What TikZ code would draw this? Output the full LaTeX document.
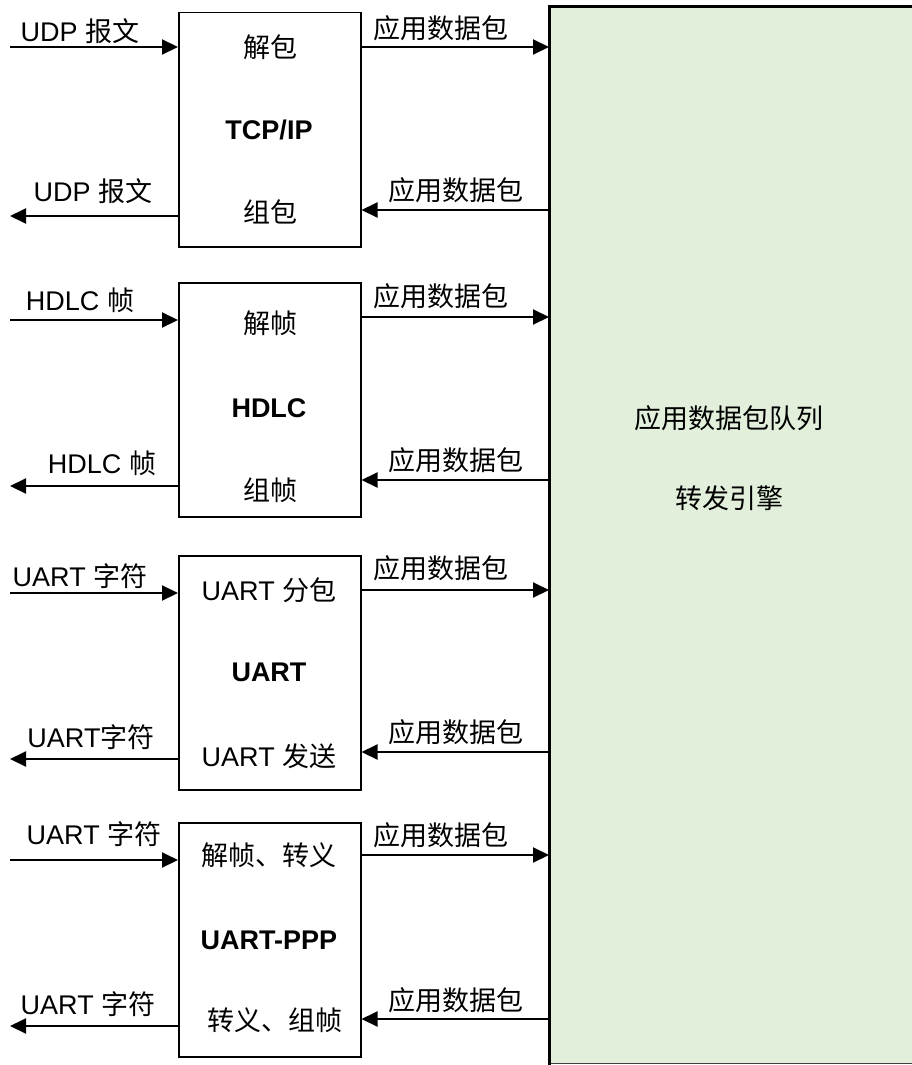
\documentclass[tikz,border=0pt]{standalone}
\usepackage{fontspec}
\setmainfont{Liberation Sans}
\newfontfamily\cjk{Noto Sans CJK SC}
\usetikzlibrary{arrows.meta}
\newcommand\zh[1]{{\cjk #1}}
\definecolor{enggreen}{HTML}{E2EFDA}
\tikzset{
  txt/.style={inner sep=0pt, font=\fontsize{27}{32}\selectfont},
  btxt/.style={inner sep=0pt, font=\fontsize{27}{32}\selectfont\bfseries},
  blk/.style={draw=black, line width=1.5pt, fill=white, minimum width=182pt, minimum height=234pt, inner sep=0pt},
  arr/.style={line width=2pt, -{Triangle[length=16pt,width=15pt]}},
}
\begin{document}
\begin{tikzpicture}[x=1pt,y=-1pt]
\useasboundingbox (0,0) rectangle (911,1065);
% engine
\node[fill=enggreen, minimum width=366pt, minimum height=1056pt, inner sep=0pt, anchor=north west] (eng) at (549,7) {};
\draw[line width=1pt, draw=black!75] (eng.south west) -- (eng.south east);
\draw[line width=3pt, line cap=rect] (eng.south west) -- (eng.north west) -- (eng.north east);
\node[txt] (e1) at (729,418) {\zh{应用数据包队列}};
\node[txt] (e2) at (729,498) {\zh{转发引擎}};

% blocks
\node[blk, anchor=north west] (b1) at (178,12) {};
\node[blk, anchor=north west] (b2) at (178,282) {};
\node[blk, anchor=north west] (b3) at (178,555) {};
\node[blk, anchor=north west] (b4) at (178,822) {};

% block texts
\node[txt] (t11) at (270,47) {\zh{解包}};
\node[btxt] (t12) at (269,130) {TCP/IP};
\node[txt] (t13) at (270,212) {\zh{组包}};
\node[txt] (t21) at (270,323) {\zh{解帧}};
\node[btxt] (t22) at (269,408) {HDLC};
\node[txt] (t23) at (270,490) {\zh{组帧}};
\node[txt] (t31) at (269,590) {UART \zh{分包}};
\node[btxt] (t32) at (269,672) {UART};
\node[txt] (t33) at (269,756) {UART \zh{发送}};
\node[txt] (t41) at (269,855) {\zh{解帧、转义}};
\node[btxt] (t42) at (269,940) {UART-PPP};
\node[txt] (t43) at (275,1020) {\zh{转义、组帧}};

% free ends
\coordinate (in1) at (10,47);   \coordinate (out1) at (10,216);
\coordinate (in2) at (10,320);  \coordinate (out2) at (10,486);
\coordinate (in3) at (10,593);  \coordinate (out3) at (10,759);
\coordinate (in4) at (10,860);  \coordinate (out4) at (10,1026);
\coordinate (up1) at (450,47);  \coordinate (dn1) at (450,210);
\coordinate (up2) at (450,317); \coordinate (dn2) at (450,480);
\coordinate (up3) at (450,590); \coordinate (dn3) at (450,752);
\coordinate (up4) at (450,855); \coordinate (dn4) at (450,1019);

% arrows
\foreach \i in {1,2,3,4}{
  \draw[arr] (in\i) -- (in\i -| b\i.west);
  \draw[arr] (out\i -| b\i.west) -- (out\i);
  \draw[arr] (up\i -| b\i.east) -- (up\i -| eng.west);
  \draw[arr] (dn\i -| eng.west) -- (dn\i -| b\i.east);
}

% labels
\node[txt] (l11) at (80,31) {UDP \zh{报文}};
\node[txt] (l12) at (93,191) {UDP \zh{报文}};
\node[txt] (l21) at (80,300) {HDLC \zh{帧}};
\node[txt] (l22) at (102,463) {HDLC \zh{帧}};
\node[txt] (l31) at (80,576) {UART \zh{字符}};
\node[txt] (l32) at (91,737) {UART\zh{字符}};
\node[txt] (l41) at (94,834) {UART \zh{字符}};
\node[txt] (l42) at (88,1004) {UART \zh{字符}};

\node[txt] (r11) at (441,28) {\zh{应用数据包}};
\node[txt] (r12) at (456,190) {\zh{应用数据包}};
\node[txt] (r21) at (441,296) {\zh{应用数据包}};
\node[txt] (r22) at (456,460) {\zh{应用数据包}};
\node[txt] (r31) at (441,568) {\zh{应用数据包}};
\node[txt] (r32) at (456,732) {\zh{应用数据包}};
\node[txt] (r41) at (441,835) {\zh{应用数据包}};
\node[txt] (r42) at (456,1000) {\zh{应用数据包}};
\end{tikzpicture}
\end{document}
